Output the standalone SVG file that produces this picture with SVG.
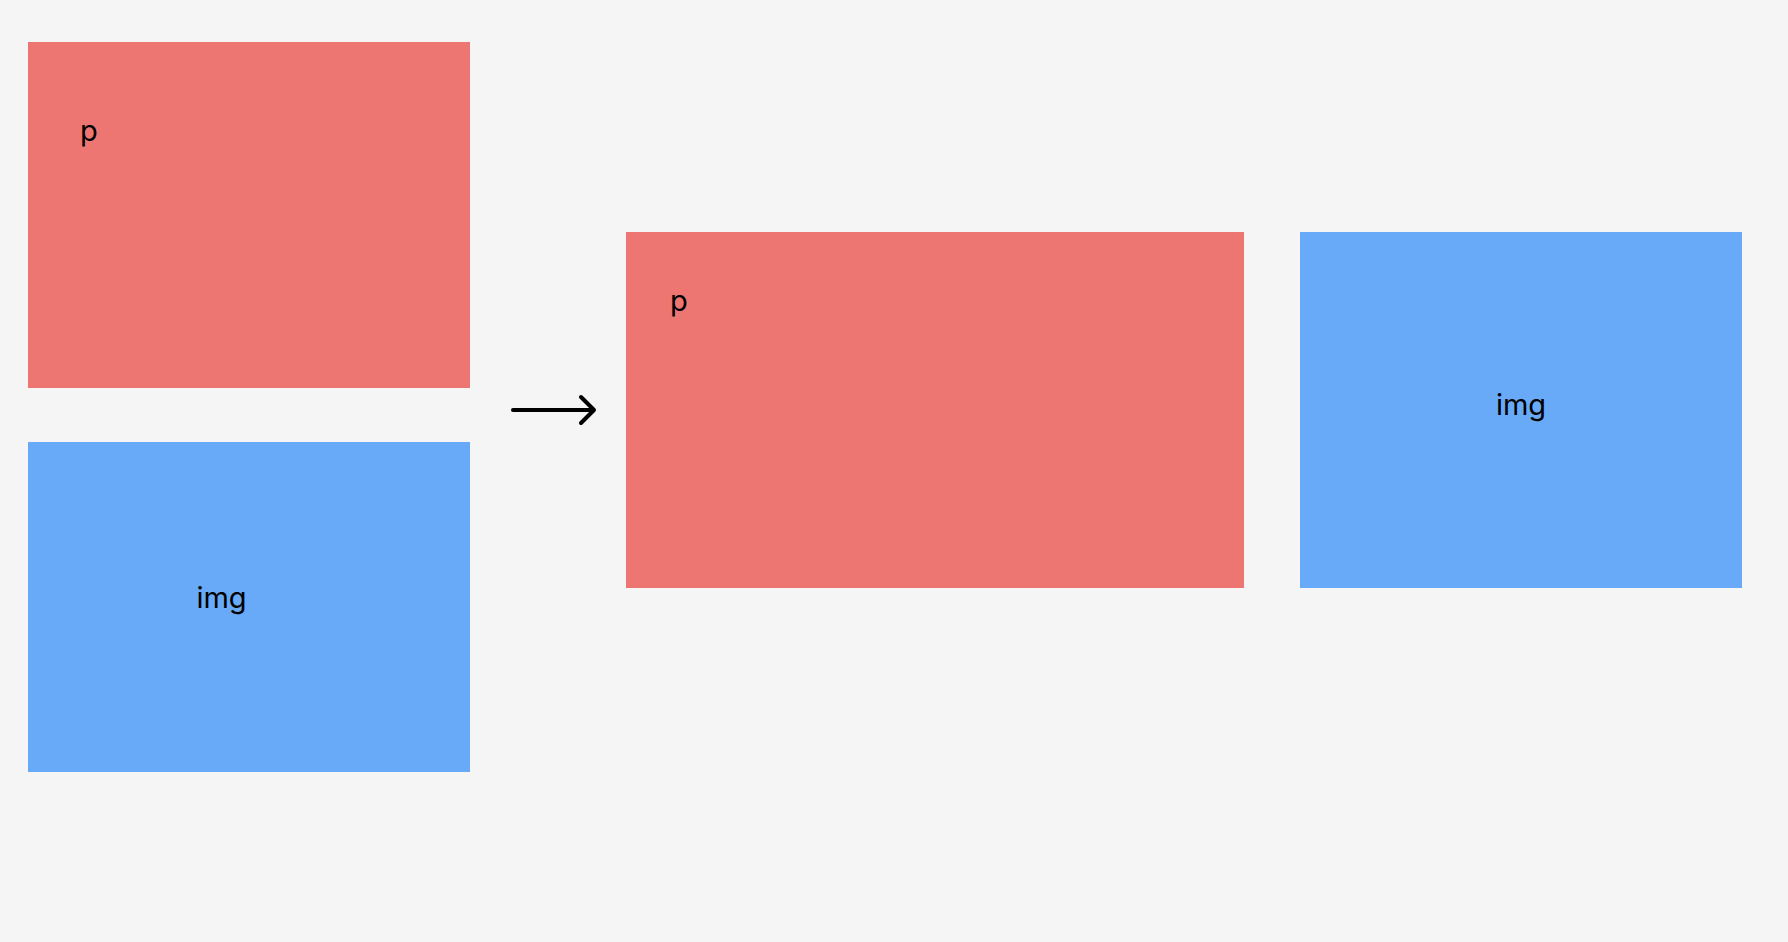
<svg xmlns="http://www.w3.org/2000/svg" width="1788" height="942" viewBox="0 0 1788 942">
<style>
.red{fill:#ee7672}
.blue{fill:#69aaf8}
.t{font-family:Inter,"Liberation Sans",sans-serif;font-size:29px;fill:#000}
</style>
<rect width="1788" height="942" fill="#f5f5f5"/>
<g id="p-left"><rect class="red" x="28" y="42" width="442" height="346"/><text class="t" x="80" y="141">p</text></g>
<g id="img-left"><rect class="blue" x="28" y="442" width="442" height="330"/><text class="t" x="221.5" y="608" text-anchor="middle">img</text></g>
<g id="p-right"><rect class="red" x="626" y="232" width="618" height="356"/><text class="t" x="670" y="311">p</text></g>
<g id="img-right"><rect class="blue" x="1300" y="232" width="442" height="356"/><text class="t" x="1521" y="415" text-anchor="middle">img</text></g>
<g id="connectors" fill="none" stroke="#000" stroke-width="4" stroke-linecap="round" stroke-linejoin="round">
<path d="M513 410H593"/>
<path d="M581 397L594 410L581 423"/>
</g>
</svg>
